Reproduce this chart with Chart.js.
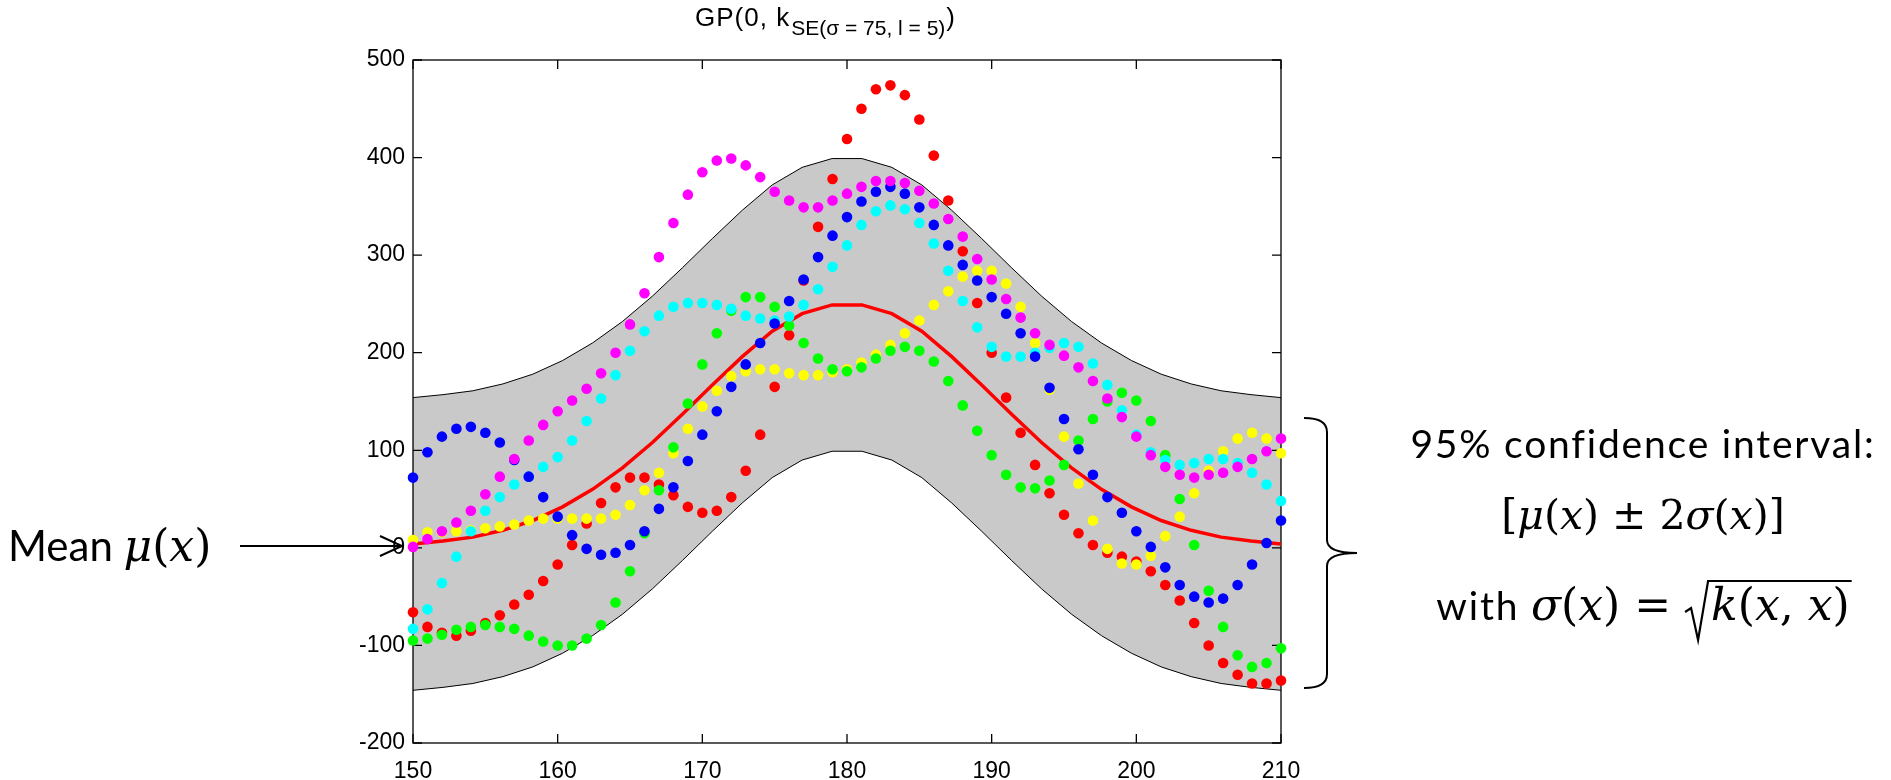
<!DOCTYPE html>
<html>
<head>
<meta charset="utf-8">
<title>GP prior samples</title>
<script src="https://cdn.jsdelivr.net/npm/chart.js@4.4.0/dist/chart.umd.min.js"></script>
<style>
  html, body { margin: 0; padding: 0; background: #fff; }
  canvas { display: block; }
</style>
</head>
<body>
<canvas id="gpChart" width="1891" height="780"></canvas>
<script>
// input locations of the sampled functions
const xs = [150, 151, 152, 153, 154, 155, 156, 157, 158, 159, 160, 161, 162, 163, 164, 165, 166, 167, 168, 169, 170,
  171, 172, 173, 174, 175, 176, 177, 178, 179, 180, 181, 182, 183, 184, 185, 186, 187, 188, 189, 190,
  191, 192, 193, 194, 195, 196, 197, 198, 199, 200, 201, 202, 203, 204, 205, 206, 207, 208, 209, 210];

// six draws from the GP
const sampleRed = [-66, -81, -87, -90, -85, -77, -69, -58, -48, -34, -17, 3, 25, 46, 62, 72, 72, 65, 54, 42, 36,
  38, 52, 79, 116, 165, 218, 274, 329, 378, 419, 450, 470, 474, 464, 439, 402, 356, 304, 251, 200,
  154, 118, 85, 56, 34, 15, 3, -5, -9, -14, -24, -38, -54, -77, -100, -118, -130, -139, -139, -136];
const sampleYellow = [8, 16, 16, 17, 18, 20, 22, 24, 28, 30, 30, 30, 30, 30, 34, 44, 59, 77, 97, 122, 145,
  161, 176, 181, 183, 183, 179, 177, 177, 180, 183, 190, 198, 208, 220, 233, 249, 263, 278, 284, 284,
  271, 247, 210, 162, 114, 66, 28, -1, -16, -17, -8, 12, 32, 56, 79, 99, 112, 118, 112, 97];
const sampleGreen = [-95, -93, -89, -84, -81, -79, -81, -83, -90, -96, -100, -100, -93, -79, -56, -24, 15, 59, 103, 148, 188,
  220, 243, 257, 257, 247, 228, 210, 194, 183, 181, 185, 194, 202, 206, 202, 191, 171, 146, 120, 95,
  75, 62, 61, 69, 85, 110, 132, 150, 159, 151, 130, 95, 50, 3, -44, -81, -110, -122, -118, -103];
const sampleCyan = [-83, -63, -36, -9, 17, 38, 52, 65, 73, 83, 93, 110, 130, 153, 177, 202, 222, 238, 247, 251, 251,
  249, 245, 238, 235, 233, 237, 249, 265, 288, 310, 331, 345, 351, 347, 333, 312, 284, 253, 226, 206,
  196, 196, 200, 205, 210, 206, 189, 167, 141, 116, 98, 90, 85, 87, 91, 91, 87, 77, 65, 48];
const sampleBlue = [72, 98, 114, 122, 124, 118, 108, 90, 73, 52, 32, 13, -1, -7, -5, 3, 17, 40, 62, 89, 116,
  140, 165, 188, 210, 230, 253, 275, 298, 320, 339, 355, 365, 370, 363, 349, 331, 310, 290, 274, 257,
  240, 220, 196, 164, 132, 101, 75, 52, 36, 17, 1, -20, -38, -50, -56, -52, -38, -17, 5, 28];
const sampleMagenta = [1, 9, 17, 26, 38, 55, 73, 91, 110, 126, 140, 151, 163, 179, 200, 229, 261, 298, 333, 362, 385,
  397, 399, 392, 380, 365, 356, 349, 349, 356, 363, 370, 376, 376, 374, 366, 353, 337, 319, 296, 275,
  255, 236, 220, 208, 197, 185, 171, 153, 134, 114, 95, 83, 75, 72, 75, 77, 83, 91, 99, 112];

// prior mean and the +/- 2 sigma envelope on a coarser grid
const gridX = [150, 152.07, 154.14, 156.21, 158.28, 160.34, 162.41, 164.48, 166.55, 168.62,
  170.69, 172.76, 174.83, 176.9, 178.97, 181.03, 183.1, 185.17, 187.24, 189.31,
  191.38, 193.45, 195.52, 197.59, 199.66, 201.72, 203.79, 205.86, 207.93, 210];
const meanY = [4, 7, 11, 18, 28, 42, 60, 82, 108, 137, 167, 196, 222, 240, 249,
  249, 240, 222, 196, 167, 137, 108, 82, 60, 42, 28, 18, 11, 7, 4];
const upperY = [154, 157, 161, 168, 178, 192, 210, 232, 258, 287, 317, 346, 372, 390, 399,
  399, 390, 372, 346, 317, 287, 258, 232, 210, 192, 178, 168, 161, 157, 154];
const lowerY = [-146, -143, -139, -132, -122, -108, -90, -68, -42, -13, 17, 46, 72, 90, 99,
  99, 90, 72, 46, 17, -13, -42, -68, -90, -108, -122, -132, -139, -143, -146];

const xTicks = [150, 160, 170, 180, 190, 200, 210];
const yTicks = [-200, -100, 0, 100, 200, 300, 400, 500];

const toPts = (xv, yv) => xv.map((x, i) => ({ x: x, y: yv[i] }));

function dots(values, color) {
  return {
    data: toPts(xs, values),
    showLine: false,
    pointRadius: 5.3,
    pointBorderWidth: 0,
    pointBackgroundColor: color,
    pointBorderColor: color,
    clip: false
  };
}

function curve(yv, color, width, extra) {
  return Object.assign({
    data: toPts(gridX, yv),
    showLine: true,
    pointRadius: 0,
    borderColor: color,
    borderWidth: width,
    tension: 0,
    fill: false
  }, extra || {});
}

const AXIS_FONT = 'Liberation Sans, Arial, sans-serif';
const TEXT_FONT = 'Lato, "Open Sans", sans-serif';
const MATH_FONT = '"DejaVu Serif", "Liberation Serif", serif';

// box with inward tick marks, drawn right after the shaded band
const framePlugin = {
  id: 'frame',
  afterDatasetDraw(chart, args) {
    if (args.index !== 7) return;
    const { ctx, chartArea: a, scales } = chart;
    ctx.save();
    ctx.strokeStyle = '#000';
    ctx.lineWidth = 1.3;
    ctx.strokeRect(a.left, a.top, a.right - a.left, a.bottom - a.top);
    const len = 9;
    ctx.beginPath();
    xTicks.forEach(v => {
      const px = scales.x.getPixelForValue(v);
      ctx.moveTo(px, a.bottom); ctx.lineTo(px, a.bottom - len);
      ctx.moveTo(px, a.top); ctx.lineTo(px, a.top + len);
    });
    yTicks.forEach(v => {
      const py = scales.y.getPixelForValue(v);
      ctx.moveTo(a.left, py); ctx.lineTo(a.left + len, py);
      ctx.moveTo(a.right, py); ctx.lineTo(a.right - len, py);
    });
    ctx.stroke();
    ctx.restore();
  }
};

// width of a row of styled text pieces
function runsWidth(ctx, runs) {
  let w = 0;
  runs.forEach(r => {
    ctx.font = r[1];
    ctx.letterSpacing = r[2] || '0px';
    w += ctx.measureText(r[0]).width;
  });
  return w;
}

// draw the pieces one after another, returns the x where the row ends
function drawRuns(ctx, x, y, runs, align) {
  let cx = align === 'center' ? x - runsWidth(ctx, runs) / 2 : x;
  runs.forEach(r => {
    ctx.font = r[1];
    ctx.letterSpacing = r[2] || '0px';
    ctx.fillText(r[0], cx, y);
    cx += ctx.measureText(r[0]).width;
  });
  ctx.letterSpacing = '0px';
  return cx;
}

const notesPlugin = {
  id: 'notes',
  afterDraw(chart) {
    const { ctx } = chart;
    ctx.save();
    ctx.fillStyle = '#000';
    ctx.strokeStyle = '#000';
    ctx.textBaseline = 'alphabetic';
    ctx.textAlign = 'left';

    // title: GP(0, k_SE(...))
    const mainF = '26px ' + AXIS_FONT;
    const subF = '21px ' + AXIS_FONT;
    const t1 = [['GP(0, k', mainF, '1px']];
    const t2 = [['SE(\u03C3 = 75, l = 5)', subF]];
    const t3 = [[')', mainF]];
    const tw = runsWidth(ctx, t1) + runsWidth(ctx, t2) + runsWidth(ctx, t3);
    let tx = 824 - tw / 2;
    tx = drawRuns(ctx, tx, 26, t1, 'left');
    tx = drawRuns(ctx, tx + 1, 35, t2, 'left');
    drawRuns(ctx, tx + 1, 26, t3, 'left');

    // mean label and arrow
    const up1 = '44px ' + MATH_FONT;
    const it1 = 'italic 44px ' + MATH_FONT;
    drawRuns(ctx, 8, 561, [['Mean ', '42px ' + TEXT_FONT], ['\u03BC', it1], ['(', up1], ['x', it1], [')', up1]], 'left');
    ctx.lineWidth = 2;
    ctx.beginPath();
    ctx.moveTo(240, 546); ctx.lineTo(402, 546);
    ctx.moveTo(380, 536); ctx.lineTo(402, 546); ctx.lineTo(380, 556);
    ctx.stroke();

    // curly brace at the right edge
    ctx.lineWidth = 2;
    ctx.beginPath();
    ctx.moveTo(1304, 418);
    ctx.quadraticCurveTo(1327, 418, 1327, 432);
    ctx.lineTo(1327, 540);
    ctx.quadraticCurveTo(1327, 553, 1357, 553);
    ctx.quadraticCurveTo(1327, 553, 1327, 566);
    ctx.lineTo(1327, 674);
    ctx.quadraticCurveTo(1327, 688, 1304, 688);
    ctx.stroke();

    // confidence interval text
    const cxText = 1643;
    const wordF = '39px ' + TEXT_FONT;
    drawRuns(ctx, cxText, 458, [['95% confidence interval:', wordF, '1.8px']], 'center');
    const up2 = '41px ' + MATH_FONT;
    const it2 = 'italic 41px ' + MATH_FONT;
    drawRuns(ctx, cxText, 529, [['[', up2], ['\u03BC', it2], ['(', up2], ['x', it2], [') \u00B1 2', up2],
      ['\u03C3', it2], ['(', up2], ['x', it2], [')]', up2]], 'center');

    // third line with a hand drawn radical
    const up3 = '44px ' + MATH_FONT;
    const it3 = 'italic 44px ' + MATH_FONT;
    const head = [['with ', wordF, '1.8px'], ['\u03C3', it3], ['(', up3], ['x', it3], [') = ', up3]];
    const tail = [['k', it3], ['(', up3], ['x', it3], [', ', up3], ['x', it3], [')', up3]];
    const hw = runsWidth(ctx, head);
    const tl = runsWidth(ctx, tail);
    const radW = 26;
    const b = 620;
    const afterHead = drawRuns(ctx, cxText - (hw + radW + tl) / 2, b, head, 'left');
    ctx.lineWidth = 2.2;
    ctx.beginPath();
    ctx.moveTo(afterHead, b - 8);
    ctx.lineTo(afterHead + 6, b - 12);
    ctx.lineTo(afterHead + 13, b + 20);
    ctx.lineTo(afterHead + 23, b - 39);
    ctx.lineTo(afterHead + radW + tl + 2, b - 39);
    ctx.stroke();
    drawRuns(ctx, afterHead + radW, b, tail, 'left');
    ctx.restore();
  }
};

const ctx = document.getElementById('gpChart');

const chart = new Chart(ctx, {
  type: 'scatter',
  data: {
    datasets: [
      dots(sampleMagenta, '#ff00ff'),
      dots(sampleBlue, '#0000ff'),
      dots(sampleCyan, '#00ffff'),
      dots(sampleGreen, '#00ff00'),
      dots(sampleYellow, '#ffff00'),
      dots(sampleRed, '#ff0000'),
      curve(meanY, '#ff0000', 3.5),
      curve(lowerY, '#000000', 1),
      curve(upperY, '#000000', 1, { fill: '-1', backgroundColor: '#c9c9c9' })
    ]
  },
  options: {
    responsive: false,
    animation: false,
    layout: { padding: { left: 353, right: 610, top: 60, bottom: 0 } },
    plugins: {
      legend: { display: false },
      tooltip: { enabled: false },
      title: { display: false }
    },
    scales: {
      x: {
        type: 'linear',
        min: 150,
        max: 210,
        afterBuildTicks(scale) { scale.ticks = xTicks.map(v => ({ value: v })); },
        afterFit(scale) { scale.height = 37; },
        grid: { display: false, drawTicks: false },
        border: { display: false },
        ticks: { color: '#000', padding: 15, maxRotation: 0, font: { family: AXIS_FONT, size: 23 } }
      },
      y: {
        min: -200,
        max: 500,
        afterBuildTicks(scale) { scale.ticks = yTicks.map(v => ({ value: v })); },
        afterFit(scale) { scale.width = 60; },
        grid: { display: false, drawTicks: false },
        border: { display: false },
        ticks: { color: '#000', padding: 8, font: { family: AXIS_FONT, size: 23 } }
      }
    }
  },
  plugins: [framePlugin, notesPlugin]
});
</script>
</body>
</html>
